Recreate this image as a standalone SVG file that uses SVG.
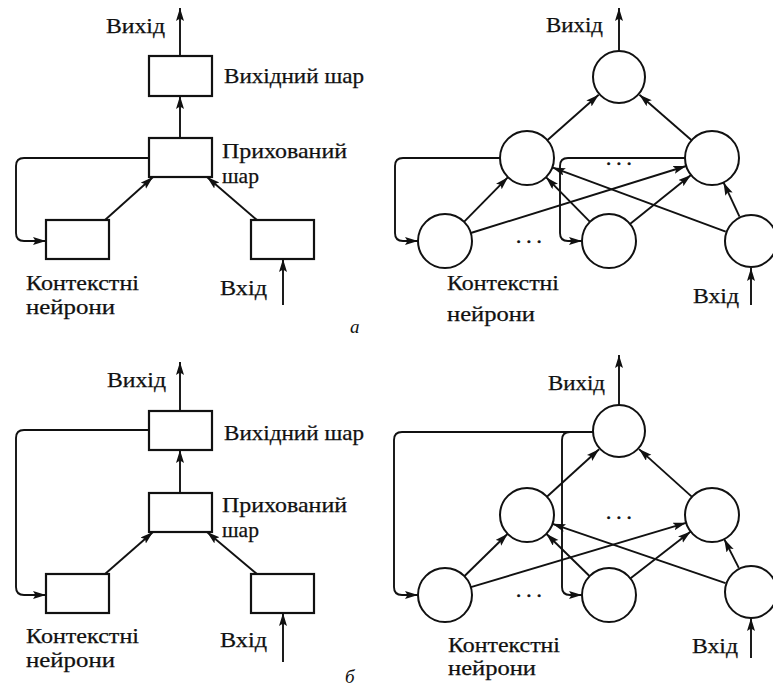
<svg xmlns="http://www.w3.org/2000/svg" width="773" height="693" viewBox="0 0 773 693">
<style>
.bg{fill:#fff}
.box{fill:#fff;stroke:#111;stroke-width:2.2}
.n{fill:#fff;stroke:#111;stroke-width:2}
.c{fill:none;stroke:#111;stroke-width:1.9}
.a{marker-end:url(#ah)}
</style>
<defs>
<marker id="ah" markerUnits="userSpaceOnUse" markerWidth="14" markerHeight="9" refX="13" refY="4" orient="auto">
<path d="M0,0 L13,4 L0,8 L2.5,4 z" fill="#111"/>
</marker>
</defs>
<rect class="bg" x="0" y="0" width="773" height="693"/>

<!-- Panel a, left -->
<g id="a-left">
<g id="a-out"><rect class="box" x="149" y="56" width="63" height="40"/></g>
<g id="a-hid"><rect class="box" x="149" y="138" width="63" height="39"/></g>
<g id="a-ctx"><rect class="box" x="46" y="220" width="63" height="39"/></g>
<g id="a-in"><rect class="box" x="251" y="220" width="63" height="39"/></g>
<g id="a-left-connectors">
<path class="c a" d="M180,56 V8"/>
<path class="c a" d="M180,138 V96"/>
<path class="c a" d="M105,220 L153,177"/>
<path class="c a" d="M257,220 L207,177"/>
<path class="c a" d="M283,305 V259"/>
<path class="c a" d="M149,158 H24 Q16,158 16,166 V233 Q16,241 24,241 H46"/>
</g>
<g font-family="Liberation Serif" font-size="21" fill="#111" stroke="#111" stroke-width="0.25">
<text x="106" y="33" textLength="59" lengthAdjust="spacingAndGlyphs">Вихід</text>
<text x="224" y="83" textLength="140" lengthAdjust="spacingAndGlyphs">Вихідний шар</text>
<text x="222" y="158" textLength="125" lengthAdjust="spacingAndGlyphs">Прихований</text>
<text x="222" y="183" textLength="37" lengthAdjust="spacingAndGlyphs">шар</text>
<text x="26" y="290" textLength="113" lengthAdjust="spacingAndGlyphs">Контекстні</text>
<text x="26" y="314" textLength="89" lengthAdjust="spacingAndGlyphs">нейрони</text>
<text x="220" y="295" textLength="47" lengthAdjust="spacingAndGlyphs">Вхід</text>
<text x="350" y="333" font-style="italic" font-size="19" stroke-width="0">а</text>
</g>
</g>

<!-- Panel a, right -->
<g id="a-right">
<g id="ar-T"><circle class="n" cx="619" cy="77" r="26"/></g>
<g id="ar-HL"><circle class="n" cx="527" cy="158" r="27"/></g>
<g id="ar-HR"><circle class="n" cx="712" cy="158" r="27"/></g>
<g id="ar-C1"><circle class="n" cx="445" cy="241" r="27"/></g>
<g id="ar-C2"><circle class="n" cx="609" cy="241" r="27"/></g>
<g id="ar-IN"><circle class="n" cx="751" cy="241" r="26"/></g>
<g id="a-right-connectors">
<path class="c a" d="M619,51 V8"/>
<path class="c a" d="M751,305 V268"/>
<path class="c a" d="M547.3,140.2 L598.7,94.8"/>
<path class="c a" d="M691.6,140.3 L639.4,94.7"/>
<path class="c a" d="M464,221.8 L508,177.2"/>
<path class="c a" d="M470.8,233 L686.2,166"/>
<path class="c a" d="M590,221.8 L546,177.2"/>
<path class="c a" d="M630,224.1 L691,174.9"/>
<path class="c a" d="M725.7,231.6 L552.3,167.4"/>
<path class="c a" d="M739.5,216.6 L723.5,182.4"/>
<path class="c a" d="M500,158 H403 Q395,158 395,166 V233 Q395,241 403,241 H418"/>
<path class="c a" d="M685,158 H568 Q560,158 560,166 V233 Q560,241 568,241 H582"/>
</g>
<g font-family="Liberation Serif" font-size="21" fill="#111" stroke="#111" stroke-width="0.25">
<text x="606" y="165" letter-spacing="5" stroke-width="0.6">...</text>
<text x="516" y="243" letter-spacing="5" stroke-width="0.6">...</text>
<text x="546" y="32" textLength="57" lengthAdjust="spacingAndGlyphs">Вихід</text>
<text x="447" y="290" textLength="112" lengthAdjust="spacingAndGlyphs">Контекстні</text>
<text x="447" y="321" textLength="88" lengthAdjust="spacingAndGlyphs">нейрони</text>
<text x="693" y="303" textLength="46" lengthAdjust="spacingAndGlyphs">Вхід</text>
</g>
</g>

<!-- Panel b, left -->
<g id="b-left">
<g id="b-out"><rect class="box" x="149" y="411" width="63" height="39"/></g>
<g id="b-hid"><rect class="box" x="149" y="493" width="63" height="39"/></g>
<g id="b-ctx"><rect class="box" x="46" y="574" width="63" height="39"/></g>
<g id="b-in"><rect class="box" x="251" y="574" width="63" height="39"/></g>
<g id="b-left-connectors">
<path class="c a" d="M180,411 V362"/>
<path class="c a" d="M180,493 V450"/>
<path class="c a" d="M105,574 L153,532"/>
<path class="c a" d="M257,574 L207,532"/>
<path class="c a" d="M283,662 V613"/>
<path class="c a" d="M149,430 H24 Q16,430 16,438 V587 Q16,595 24,595 H46"/>
</g>
<g font-family="Liberation Serif" font-size="21" fill="#111" stroke="#111" stroke-width="0.25">
<text x="107" y="387" textLength="59" lengthAdjust="spacingAndGlyphs">Вихід</text>
<text x="224" y="440" textLength="140" lengthAdjust="spacingAndGlyphs">Вихідний шар</text>
<text x="222" y="512" textLength="125" lengthAdjust="spacingAndGlyphs">Прихований</text>
<text x="222" y="537" textLength="37" lengthAdjust="spacingAndGlyphs">шар</text>
<text x="26" y="643" textLength="113" lengthAdjust="spacingAndGlyphs">Контекстні</text>
<text x="26" y="667" textLength="89" lengthAdjust="spacingAndGlyphs">нейрони</text>
<text x="220" y="647" textLength="47" lengthAdjust="spacingAndGlyphs">Вхід</text>
<text x="345" y="683" font-style="italic" font-size="19" stroke-width="0">б</text>
</g>
</g>

<!-- Panel b, right -->
<g id="b-right">
<g id="br-T"><circle class="n" cx="619" cy="431" r="26"/></g>
<g id="br-HL"><circle class="n" cx="527" cy="515" r="27"/></g>
<g id="br-HR"><circle class="n" cx="712" cy="515" r="27"/></g>
<g id="br-C1"><circle class="n" cx="445" cy="595" r="27"/></g>
<g id="br-C2"><circle class="n" cx="609" cy="595" r="27"/></g>
<g id="br-IN"><circle class="n" cx="751" cy="592" r="26"/></g>
<g id="b-right-connectors">
<path class="c a" d="M619,405 V355"/>
<path class="c a" d="M751,658 V618"/>
<path class="c a" d="M546.9,496.8 L599.1,449.2"/>
<path class="c a" d="M692,496.9 L639,449.1"/>
<path class="c a" d="M464.3,576.2 L507.7,533.8"/>
<path class="c a" d="M470.9,587.2 L686.1,522.8"/>
<path class="c a" d="M589.7,576.2 L546.3,533.8"/>
<path class="c a" d="M630.3,578.4 L690.7,531.6"/>
<path class="c a" d="M725.5,583.2 L552.5,523.8"/>
<path class="c a" d="M738.8,567.9 L724.2,539.1"/>
<path class="c a" d="M593,432 H402 Q394,432 394,440 V587 Q394,595 402,595 H418"/>
<path class="c a" d="M570,432 Q562,432 562,440 V587 Q562,595 570,595 H582"/>
</g>
<g font-family="Liberation Serif" font-size="21" fill="#111" stroke="#111" stroke-width="0.25">
<text x="606" y="519" letter-spacing="5" stroke-width="0.6">...</text>
<text x="516" y="597" letter-spacing="5" stroke-width="0.6">...</text>
<text x="548" y="390" textLength="57" lengthAdjust="spacingAndGlyphs">Вихід</text>
<text x="448" y="652" textLength="112" lengthAdjust="spacingAndGlyphs">Контекстні</text>
<text x="448" y="675" textLength="88" lengthAdjust="spacingAndGlyphs">нейрони</text>
<text x="692" y="653" textLength="46" lengthAdjust="spacingAndGlyphs">Вхід</text>
</g>
</g>
</svg>
